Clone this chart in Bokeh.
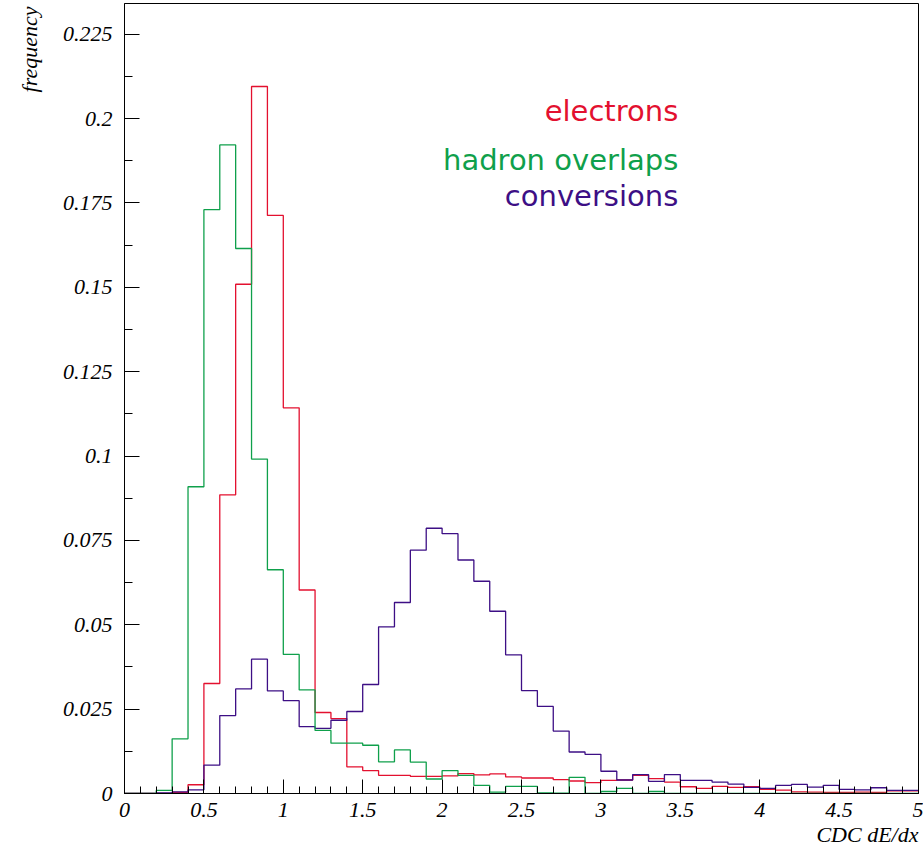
from bokeh.plotting import figure
from bokeh.models import FixedTicker, CustomJSTickFormatter, Range1d, Label, Title
from bokeh.embed import file_html
from bokeh.resources import INLINE

# ---- data ----
bin_edges = [0.0, 0.1, 0.2, 0.3, 0.4, 0.5, 0.6, 0.7, 0.8, 0.9,
             1.0, 1.1, 1.2, 1.3, 1.4, 1.5, 1.6, 1.7, 1.8, 1.9,
             2.0, 2.1, 2.2, 2.3, 2.4, 2.5, 2.6, 2.7, 2.8, 2.9,
             3.0, 3.1, 3.2, 3.3, 3.4, 3.5, 3.6, 3.7, 3.8, 3.9,
             4.0, 4.1, 4.2, 4.3, 4.4, 4.5, 4.6, 4.7, 4.8, 4.9, 5.0]

electrons = [0.0, 0.0, 0.0, 0.0003, 0.0026, 0.0326, 0.0885, 0.1509, 0.2095, 0.1713,
             0.1143, 0.0603, 0.0240, 0.0222, 0.0079, 0.0068, 0.0054, 0.0054, 0.0051, 0.0051,
             0.0052, 0.0059, 0.0055, 0.0058, 0.0049, 0.0046, 0.0046, 0.0041, 0.0037, 0.0032,
             0.0039, 0.0040, 0.0054, 0.0044, 0.0034, 0.0020, 0.0015, 0.0021, 0.0018, 0.0020,
             0.0012, 0.0010, 0.0005, 0.0004, 0.0003, 0.0003, 0.0004, 0.0003, 0.0008, 0.0008]

hadron_overlaps = [0.0, 0.0, 0.0009, 0.0162, 0.0909, 0.1730, 0.1922, 0.1615, 0.0991, 0.0663,
                   0.0412, 0.0307, 0.0187, 0.0149, 0.0149, 0.0143, 0.0094, 0.0129, 0.0093, 0.0043,
                   0.0068, 0.0054, 0.0024, 0.0004, 0.0021, 0.0021, 0.0002, 0.0001, 0.0048, 0.0,
                   0.0006, 0.0015, 0.0, 0.0006, 0.0, 0.0, 0.0, 0.0, 0.0, 0.0,
                   0.0, 0.0, 0.0, 0.0, 0.0, 0.0, 0.0, 0.0, 0.0, 0.0]

conversions = [0.0, 0.0, 0.0002, 0.0005, 0.0011, 0.0084, 0.0231, 0.0310, 0.0398, 0.0304,
               0.0275, 0.0198, 0.0193, 0.0217, 0.0243, 0.0323, 0.0494, 0.0566, 0.0721, 0.0786,
               0.0770, 0.0692, 0.0629, 0.0540, 0.0411, 0.0305, 0.0258, 0.0185, 0.0123, 0.0116,
               0.0066, 0.0040, 0.0056, 0.0036, 0.0056, 0.0039, 0.0039, 0.0034, 0.0028, 0.0018,
               0.0015, 0.0024, 0.0027, 0.0019, 0.0024, 0.0012, 0.0011, 0.0017, 0.0009, 0.0009]

x_ticks = [0.0, 0.5, 1.0, 1.5, 2.0, 2.5, 3.0, 3.5, 4.0, 4.5, 5.0]
x_tick_labels = ["0", "0.5", "1", "1.5", "2", "2.5", "3", "3.5", "4", "4.5", "5"]
y_ticks = [0.0, 0.025, 0.05, 0.075, 0.1, 0.125, 0.15, 0.175, 0.2, 0.225]
y_tick_labels = ["0", "0.025", "0.05", "0.075", "0.1", "0.125", "0.15", "0.175", "0.2", "0.225"]
x_minor = bin_edges
y_minor = [0.0125 * i for i in range(19)]

x_title = "CDC dE/dx"
y_title = "frequency"

series_names = ["electrons", "hadron overlaps", "conversions"]
series_colors = {"electrons": "#e3102f", "hadron overlaps": "#0fa04b", "conversions": "#3d0f85"}

# ---- figure ----
p = figure(width=923, height=848, output_backend="svg", toolbar_location=None,
           x_range=Range1d(0, 5), y_range=Range1d(0, 0.2341),
           min_border_left=124, min_border_right=5, min_border_top=3, min_border_bottom=55)
p.xgrid.visible = False
p.ygrid.visible = False
p.outline_line_color = "black"
p.outline_line_width = 1
p.background_fill_color = "white"
p.border_fill_color = "white"

fmt_code = """
const i = tv.findIndex(t => Math.abs(t - tick) < 1e-9);
return i >= 0 ? tl[i] : "";
"""
p.xaxis.ticker = FixedTicker(ticks=x_ticks, minor_ticks=x_minor)
p.yaxis.ticker = FixedTicker(ticks=y_ticks, minor_ticks=y_minor)
p.xaxis.formatter = CustomJSTickFormatter(args=dict(tv=x_ticks, tl=x_tick_labels), code=fmt_code)
p.yaxis.formatter = CustomJSTickFormatter(args=dict(tv=y_ticks, tl=y_tick_labels), code=fmt_code)

for ax in (p.xaxis[0], p.yaxis[0]):
    ax.axis_line_color = "black"
    ax.major_tick_line_color = "black"
    ax.minor_tick_line_color = "black"
    ax.major_tick_out = 0
    ax.minor_tick_out = 0
    ax.major_label_text_font = "Liberation Serif"
    ax.major_label_text_font_style = "italic"
    ax.major_label_text_font_size = "22px"
    ax.major_label_text_color = "black"

p.xaxis.major_tick_in = 14
p.xaxis.minor_tick_in = 7
p.yaxis.major_tick_in = 15
p.yaxis.minor_tick_in = 8
p.xaxis.major_label_standoff = 9
p.yaxis.major_label_standoff = 12

# axis titles (ROOT style: at the far ends of the axes)
p.add_layout(Title(text=x_title, align="right", standoff=0, text_font="Liberation Serif",
                   text_font_style="italic", text_font_size="22px", text_color="black"), "below")
p.add_layout(Title(text=y_title, align="right", standoff=31, offset=3, vertical_align="top",
                   text_font="Liberation Serif", text_font_style="italic",
                   text_font_size="22px", text_color="black"), "left")

series = {"electrons": electrons, "hadron overlaps": hadron_overlaps, "conversions": conversions}
for name in ["electrons", "conversions", "hadron overlaps"]:
    vals = series[name]
    p.step(x=bin_edges, y=list(vals) + [vals[-1]], mode="after",
           line_color=series_colors[name], line_width=1.3)

legend_y = {"electrons": 0.2021, "hadron overlaps": 0.1876, "conversions": 0.1772}
for name in series_names:
    p.add_layout(Label(x=3.487, y=legend_y[name], text=name, text_align="right",
                       text_baseline="alphabetic", text_font="DejaVu Sans",
                       text_font_size="29px", text_color=series_colors[name]))

open("out.html", "w").write(file_html(p, INLINE))
